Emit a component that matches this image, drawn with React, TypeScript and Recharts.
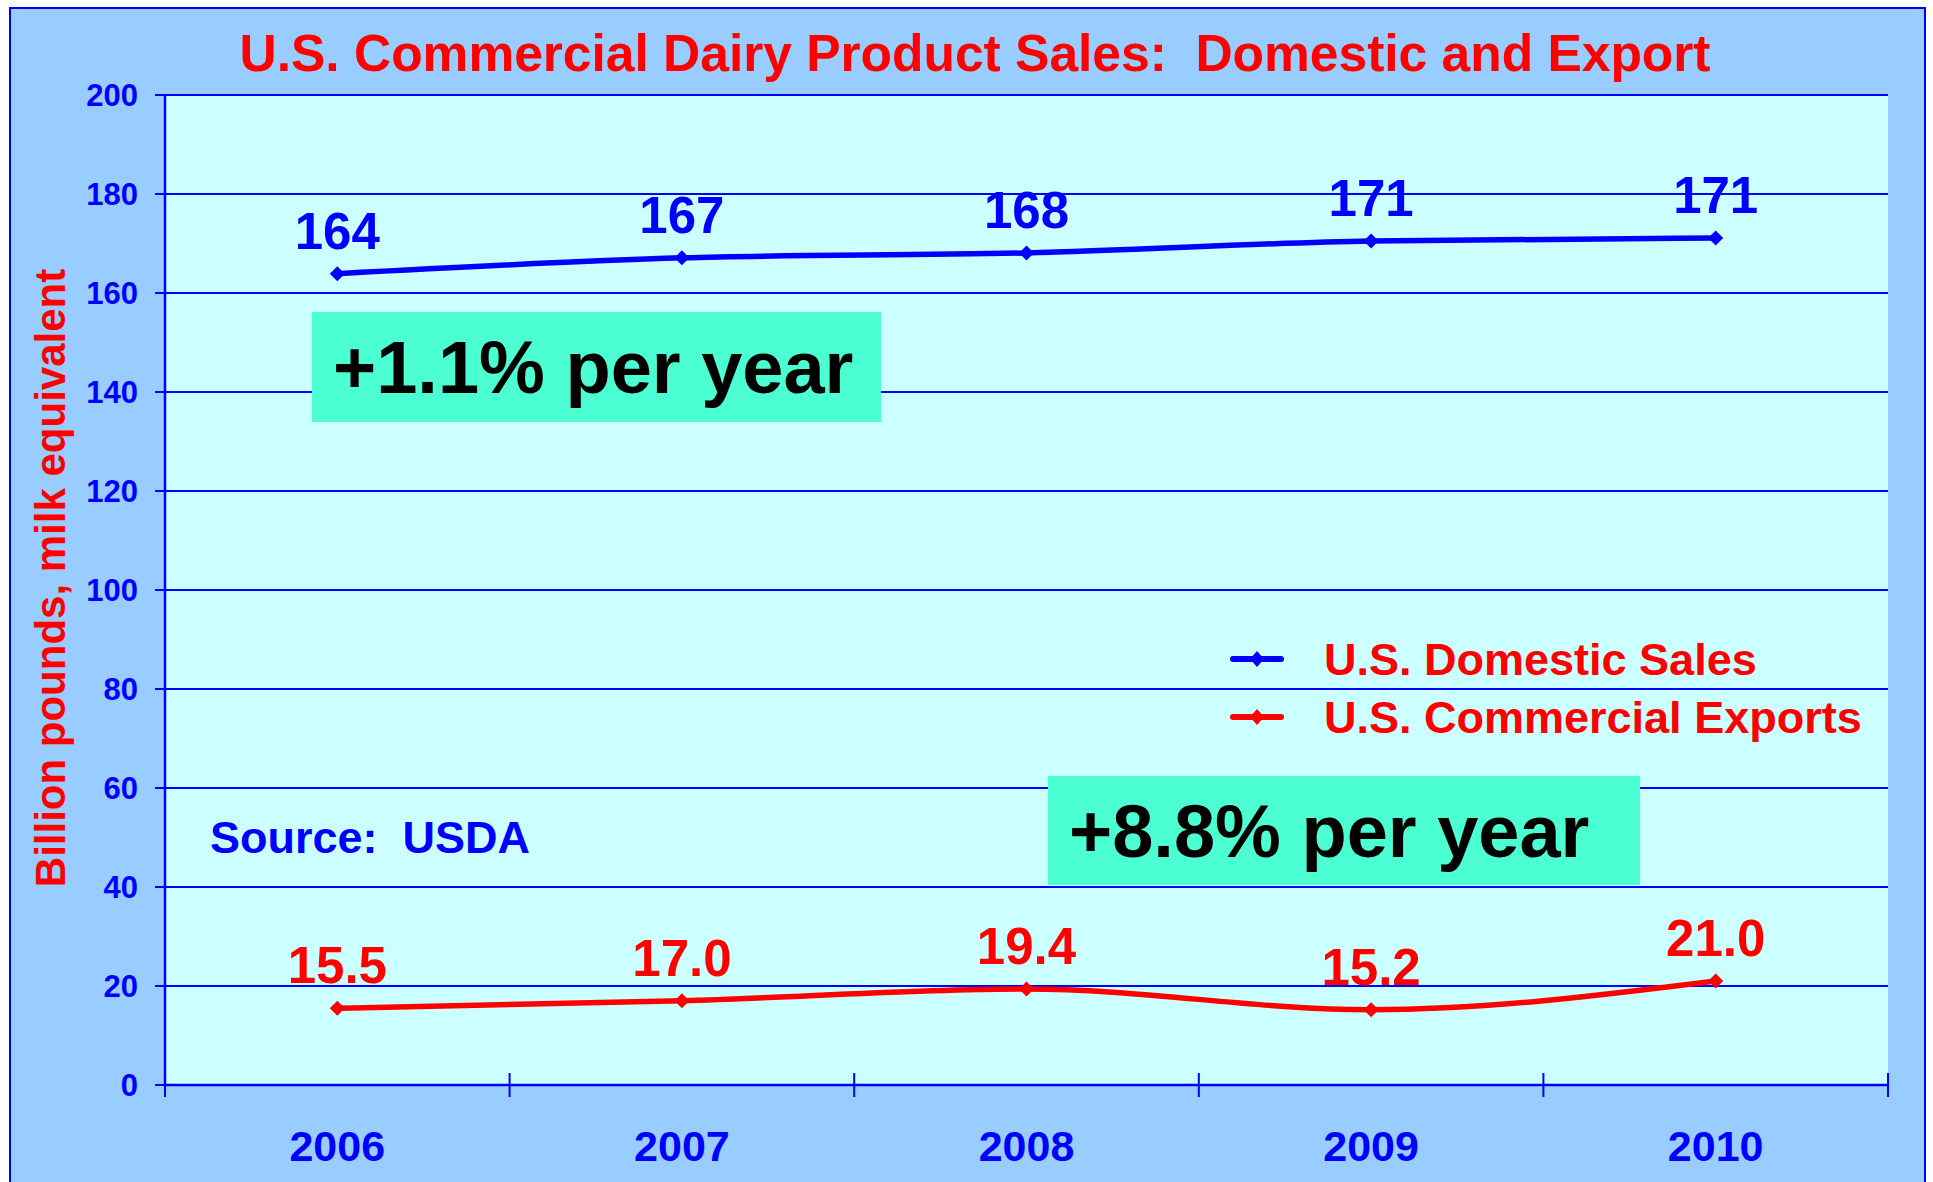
import React from 'react';
import { LineChart, Line, XAxis, YAxis, CartesianGrid, LabelList, Legend } from 'recharts';

const years = ['2006', '2007', '2008', '2009', '2010'];
const domesticSales = [163.9, 167.1, 168.1, 170.5, 171.1];
const domesticLabels = ['164', '167', '168', '171', '171'];
const commercialExports = [15.5, 17.0, 19.4, 15.2, 21.0];
const exportLabels = ['15.5', '17.0', '19.4', '15.2', '21.0'];
const yTicks = [0, 20, 40, 60, 80, 100, 120, 140, 160, 180, 200];
const seriesNames = ['U.S. Domestic Sales', 'U.S. Commercial Exports'];

const titleText = 'U.S. Commercial Dairy Product Sales:  Domestic and Export';
const yAxisTitle = 'Billion pounds, milk equivalent';
const sourceText = 'Source:  USDA';
const domesticGrowth = '+1.1% per year';
const exportGrowth = '+8.8% per year';

const data = years.map((year, i) => ({
  year,
  domestic: domesticSales[i],
  exports: commercialExports[i],
  domLabel: domesticLabels[i],
  expLabel: exportLabels[i],
}));

const FONT = '"Liberation Sans", Arial, sans-serif';
const BLUE = '#0000FF';
const RED = '#FF0000';
const BOX = '#4BFFD3';
const X_TICK_MARGIN = 45;

const Diamond = (props: any) => {
  const { cx, cy, stroke } = props;
  if (cx == null || cy == null) return null;
  const w = 7.5;
  const h = 7.5;
  return (
    <polygon
      points={`${cx},${cy - h} ${cx + w},${cy} ${cx},${cy + h} ${cx - w},${cy}`}
      fill={stroke}
      stroke="none"
    />
  );
};

const YearTick = (props: any) => {
  const { x, y, payload, index, visibleTicksCount, width } = props;
  const half =
    payload && typeof payload.offset === 'number' && payload.offset > 0
      ? payload.offset
      : width / (visibleTicksCount || years.length) / 2;
  const axisY = y - X_TICK_MARGIN;
  const last = index === (visibleTicksCount || years.length) - 1;
  return (
    <g>
      <line x1={x - half} x2={x - half} y1={axisY - 12} y2={axisY + 12} stroke={BLUE} strokeWidth={2} />
      {last && (
        <line x1={x + half} x2={x + half} y1={axisY - 12} y2={axisY + 12} stroke={BLUE} strokeWidth={2} />
      )}
      <text
        x={x}
        y={y}
        dy="0.71em"
        textAnchor="middle"
        fill={BLUE}
        fontSize={43}
        fontWeight="bold"
        fontFamily={FONT}
      >
        {payload.value}
      </text>
    </g>
  );
};

const LegendContent = (props: any) => {
  const payload = [...(props.payload || [])].sort(
    (a: any, b: any) => seriesNames.indexOf(a.value) - seriesNames.indexOf(b.value)
  );
  return (
    <svg width={700} height={130} style={{ overflow: 'visible' }}>
      {payload.map((p: any, i: number) => {
        const cy = 29 + i * 58;
        return (
          <g key={i}>
            <line x1={8} x2={56} y1={cy} y2={cy} stroke={p.color} strokeWidth={6} strokeLinecap="round" />
            <polygon points={`32,${cy - 8} 39,${cy} 32,${cy + 8} 25,${cy}`} fill={p.color} />
            <text x={99} y={45 + i * 58} fontSize={45} fontWeight="bold" fill={RED} fontFamily={FONT}>
              {p.value}
            </text>
          </g>
        );
      })}
    </svg>
  );
};

export default function App() {
  return (
    <div
      style={{
        position: 'absolute',
        left: 0,
        top: 0,
        width: 1933,
        height: 1182,
        overflow: 'hidden',
        background: '#FFFFFF',
        fontFamily: FONT,
      }}
    >
      <div
        style={{
          position: 'absolute',
          left: 9,
          top: 7,
          width: 1917,
          height: 1200,
          background: '#99CCFF',
          border: `2px solid ${BLUE}`,
          boxSizing: 'border-box',
        }}
      />
      <div style={{ position: 'absolute', left: 0, top: 0 }}>
        <LineChart
          width={1933}
          height={1182}
          data={data}
          margin={{ top: 95, right: 45, bottom: 0, left: 0 }}
        >
          <CartesianGrid
            vertical={false}
            stroke={BLUE}
            strokeWidth={1.8}
            fill="#CCFFFF"
            fillOpacity={1}
          />
          <XAxis
            dataKey="year"
            scale="band"
            height={97}
            axisLine={{ stroke: BLUE, strokeWidth: 2.5 }}
            tickLine={false}
            tickSize={0}
            tickMargin={X_TICK_MARGIN}
            interval={0}
            tick={<YearTick />}
          />
          <YAxis
            domain={[0, 200]}
            ticks={yTicks}
            interval={0}
            width={165}
            tickSize={10}
            tickMargin={17}
            axisLine={{ stroke: BLUE, strokeWidth: 2.5 }}
            tickLine={{ stroke: BLUE, strokeWidth: 2 }}
            tick={{ fill: BLUE, fontSize: 31, fontWeight: 'bold', fontFamily: FONT }}
          />
          <YAxis
            yAxisId="right"
            orientation="right"
            domain={[0, 200]}
            width={0}
            tick={false}
            tickLine={false}
            axisLine={{ stroke: BLUE, strokeWidth: 2.5 }}
          />
          <Legend
            layout="vertical"
            align="center"
            verticalAlign="middle"
            content={<LegendContent />}
            wrapperStyle={{ position: 'absolute', left: 1225, top: 630, width: 700, height: 130 }}
          />
          <Line
            name={seriesNames[0]}
            dataKey="domestic"
            type="monotone"
            stroke={BLUE}
            strokeWidth={5.5}
            dot={<Diamond />}
            activeDot={false}
            isAnimationActive={false}
          >
            <LabelList
              dataKey="domLabel"
              position="top"
              offset={25}
              fill={BLUE}
              fontSize={51}
              fontWeight="bold"
              fontFamily={FONT}
            />
          </Line>
          <Line
            name={seriesNames[1]}
            dataKey="exports"
            type="monotone"
            stroke={RED}
            strokeWidth={5.5}
            dot={<Diamond />}
            activeDot={false}
            isAnimationActive={false}
          >
            <LabelList
              dataKey="expLabel"
              position="top"
              offset={25}
              fill={RED}
              fontSize={51}
              fontWeight="bold"
              fontFamily={FONT}
            />
          </Line>
        </LineChart>
      </div>
      <svg
        width={1933}
        height={1182}
        style={{ position: 'absolute', left: 0, top: 0, pointerEvents: 'none' }}
        fontFamily={FONT}
      >
        <text x={975} y={71} textAnchor="middle" fontSize={51.5} fontWeight="bold" fill={RED} style={{ whiteSpace: 'pre' }}>
          {titleText}
        </text>
        <text
          x={65}
          y={578}
          transform="rotate(-90 65 578)"
          textAnchor="middle"
          fontSize={42}
          fontWeight="bold"
          fill={RED}
        >
          {yAxisTitle}
        </text>
        <rect x={312} y={312} width={569} height={110} fill={BOX} />
        <text x={333} y={393} fontSize={74} fontWeight="bold" fill="#000000">
          {domesticGrowth}
        </text>
        <rect x={1048} y={776} width={592} height={109} fill={BOX} />
        <text x={1069} y={857} fontSize={74} fontWeight="bold" fill="#000000">
          {exportGrowth}
        </text>
        <text x={210} y={853} fontSize={45} fontWeight="bold" fill={BLUE} style={{ whiteSpace: 'pre' }}>
          {sourceText}
        </text>
      </svg>
    </div>
  );
}
